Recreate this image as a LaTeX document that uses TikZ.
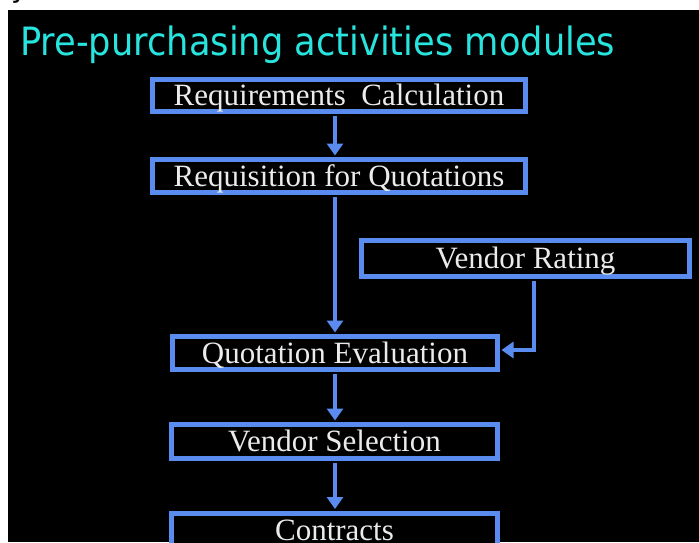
\documentclass[tikz,border=0pt]{standalone}
\usepackage{fontspec}
\usepackage{graphicx}
\setmainfont{Liberation Serif}
\newfontfamily\titlefont{DejaVu Sans}
\usetikzlibrary{arrows.meta}
\definecolor{boxblue}{RGB}{90,140,240}
\definecolor{titlecyan}{RGB}{40,228,222}
\definecolor{labelgrey}{RGB}{235,235,235}
\begin{document}
\begin{tikzpicture}[x=1pt,y=-1pt,
  modbox/.style={draw=boxblue, line width=5pt, fill=black, inner sep=0pt,
    text=labelgrey, font=\fontsize{31}{31}\selectfont,
    text height=20.5pt, text depth=0pt, align=center},
  flow/.style={draw=boxblue, line width=4.5pt,
    -{Triangle[length=12pt,width=16pt]}, shorten >=1.5pt, shorten <=2pt}]
\useasboundingbox (0,0) rectangle (699,542);
\clip (0,0) rectangle (699,542);
\fill[white] (0,0) rectangle (699,542);
\fill[black] (8,10) rectangle (699,542);
\node[anchor=base west, inner sep=0pt, text=black,
  font=\titlefont\fontsize{28}{28}\selectfont] (frag) at (11,-3) {y};
\node[anchor=base west, inner sep=0pt, text=titlecyan] (title) at (20,55)
  {\resizebox{595pt}{\height}{\titlefont\fontsize{39}{40}\selectfont Pre-purchasing activities modules}};
\node[modbox, minimum width=373pt, minimum height=32pt] (rc) at (339,95.5) {Requirements\ \ Calculation};
\node[modbox, minimum width=373pt, minimum height=33pt] (rq) at (339,176) {Requisition for Quotations};
\node[modbox, minimum width=328pt, minimum height=36pt] (vr) at (525.5,258.5) {Vendor Rating};
\node[modbox, minimum width=325pt, minimum height=33pt] (qe) at (335,353) {Quotation Evaluation};
\node[modbox, minimum width=326pt, minimum height=34pt] (vs) at (334.5,441.5) {Vendor Selection};
\node[modbox, minimum width=326pt, minimum height=34pt] (ct) at (334.5,530) {Contracts};
\draw[flow] (rc.south -| qe.center) -- (rq.north -| qe.center);
\draw[flow] (rq.south -| qe.center) -- (qe.north);
\draw[flow] (qe.south) -- (vs.north -| qe.center);
\draw[flow] (vs.south -| qe.center) -- (ct.north -| qe.center);
\coordinate (bend) at (534,350);
\draw[flow] (vr.south -| bend) -- (bend) -- (bend -| qe.east);
\end{tikzpicture}
\end{document}
